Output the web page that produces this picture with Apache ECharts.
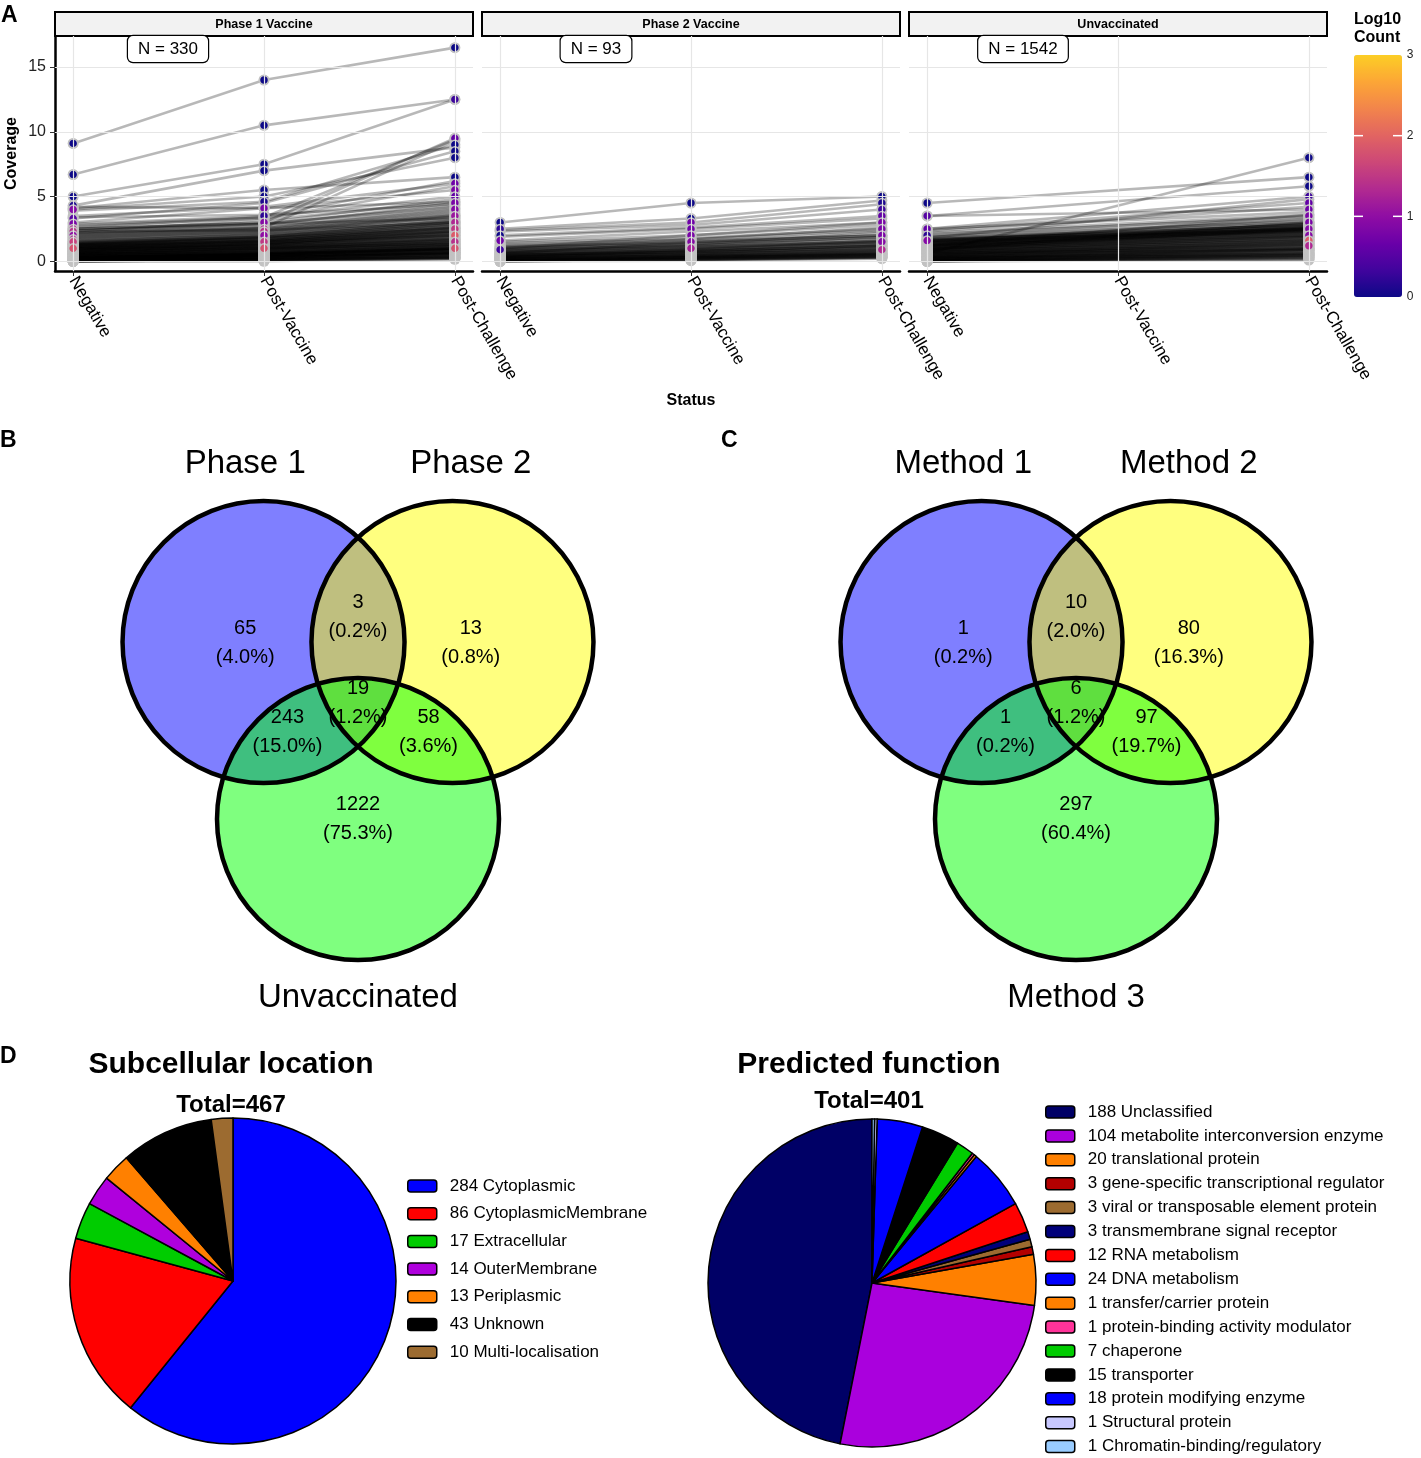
<!DOCTYPE html>
<html><head><meta charset="utf-8">
<script src="https://cdn.jsdelivr.net/npm/echarts@6/dist/echarts.min.js"></script>
<style>html,body{margin:0;padding:0;background:#fff;overflow:hidden}#c{width:1421px;height:1458px}</style>
</head><body><div id="c"></div><script>
// ---------------- DATA ----------------
const statusLabels = ['Negative', 'Post-Vaccine', 'Post-Challenge'];
const facetNames = ['Phase 1 Vaccine', 'Phase 2 Vaccine', 'Unvaccinated'];
const facetN = [330, 93, 1542];
const coverageTicks = [0, 5, 10, 15];

// [Negative, Post-Vaccine, Post-Challenge] coverage per protein (representative subset)
const phase1Lines = [
  [9.1,14.0,16.5],[6.7,10.5,12.5],[5.0,7.5,12.5],[4.3,7.0,8.8],[4.1,5.5,6.5],[4.0,5.0,8.0],
  [3.9,4.6,9.0],[3.3,4.5,8.5],[3.5,4.2,6.0],[2.5,3.0,9.5],[2.2,2.6,9.3],[2.8,3.4,9.4],
  [3.0,4.1,5.5],[2.9,3.5,6.2],[2.7,3.3,5.8],[2.6,3.4,5.0],[2.5,3.0,4.8],[2.4,2.8,4.5],
  [2.3,3.2,4.6],[2.2,2.9,4.2],[2.1,2.6,4.0],[2.0,2.5,3.8],[1.9,2.4,3.6],[1.8,2.3,3.5],
  [1.7,2.2,3.4],[1.6,2.0,3.2],[1.5,1.9,3.0],[1.4,1.8,2.9],[1.3,1.7,2.8],[1.2,1.6,2.6],
  [1.1,1.5,2.4],[1.0,1.4,2.3],[4.2,4.1,4.6],[3.4,3.6,4.4],[2.5,2.9,3.3],[2.3,2.4,3.0],
  [0.0,0.1,0.3],[0.0,0.1,0.4],[0.05,0.15,0.35],[0.1,0.2,0.5],[0.1,0.3,0.6],[0.15,0.25,0.45],
  [0.2,0.3,0.7],[0.2,0.4,0.8],[0.25,0.35,0.6],[0.3,0.5,0.9],[0.3,0.4,0.75],[0.35,0.5,1.0],
  [0.4,0.6,1.1],[0.4,0.5,0.85],[0.45,0.6,1.0],[0.5,0.7,1.2],[0.5,0.6,0.95],[0.55,0.75,1.25],
  [0.6,0.8,1.3],[0.6,0.7,1.1],[0.65,0.9,1.4],[0.7,0.9,1.5],[0.7,1.0,1.35],[0.75,1.0,1.6],
  [0.8,1.1,1.7],[0.8,1.0,1.45],[0.85,1.15,1.8],[0.9,1.2,1.9],[0.9,1.1,1.6],[0.95,1.3,2.0],
  [1.0,1.3,2.1],[1.0,1.2,1.75],[1.05,1.4,2.2],[1.1,1.45,2.0],[1.15,1.5,2.3],[1.2,1.55,2.5],
  [1.25,1.6,2.35],[1.3,1.75,2.7],[1.35,1.8,2.55],[1.4,1.9,3.0],[0.0,0.05,0.2],[0.0,0.2,0.3],
  [0.1,0.1,0.25],[0.05,0.3,0.55],[0.15,0.4,0.65],[0.2,0.5,0.9],[0.3,0.6,1.0],[0.35,0.45,0.7],
  [0.45,0.65,1.15],[0.55,0.85,1.3],[0.0,0.15,0.5],[0.1,0.25,0.7],[0.25,0.55,0.95],[0.5,0.9,1.5],
  [0.65,1.05,1.7],[0.75,1.25,2.0],[0.9,1.35,2.2],[1.1,1.6,2.6],[1.3,1.9,2.9],[1.5,2.1,3.1],
  [0.0,0.0,0.2],[0.0,0.1,0.15],[0.02,0.12,0.3],[0.05,0.1,0.25],[0.08,0.2,0.4],[0.1,0.15,0.35],
  [0.12,0.25,0.5],[0.15,0.3,0.55],[0.18,0.35,0.6],[0.2,0.35,0.65],[0.22,0.4,0.7],[0.25,0.45,0.8],
  [0.28,0.5,0.85],[0.3,0.55,0.95],[0.32,0.5,0.9],[0.38,0.55,1.0],[0.42,0.65,1.05],[0.48,0.7,1.15],
  [0.52,0.75,1.2],[0.58,0.8,1.3],[0.62,0.85,1.35],[0.68,0.95,1.45],[0.72,1.0,1.55],[0.78,1.05,1.65],
  [0.82,1.1,1.75],[0.88,1.2,1.85],[0.92,1.25,1.95],[0.98,1.3,2.05],[1.02,1.35,2.15],[1.08,1.4,2.25],
  [1.12,1.5,2.35],[1.18,1.55,2.45],[1.22,1.6,2.55],[1.28,1.7,2.65],[1.32,1.75,2.75],[1.38,1.85,2.85],
  [1.45,1.95,3.05],[1.55,2.05,3.15],[1.65,2.15,3.3],[1.75,2.25,3.45],[1.85,2.35,3.55],[1.95,2.45,3.7],
  [2.05,2.55,3.9],[2.15,2.7,4.1],[2.35,2.9,4.3]
];
const phase2Lines = [
  [3.0,4.5,5.0],[2.5,3.3,4.7],[2.4,3.0,4.4],[2.3,2.8,4.0],[2.0,2.6,3.5],[1.9,2.5,3.3],
  [1.6,2.3,3.0],[1.5,2.0,2.8],[1.4,1.8,2.5],[1.2,1.6,2.0],[1.0,1.4,1.8],[0.9,1.2,1.6],
  [0.8,1.1,1.5],[0.7,1.0,1.4],[0.6,0.9,1.3],[0.5,0.8,1.2],[0.5,0.7,1.0],[0.4,0.6,0.9],
  [0.35,0.55,0.85],[0.3,0.5,0.8],[0.25,0.45,0.7],[0.2,0.4,0.65],[0.15,0.35,0.6],[0.1,0.3,0.5],
  [0.1,0.25,0.45],[0.05,0.2,0.4],[0.0,0.15,0.35],[0.0,0.1,0.3],[0.0,0.1,0.25],[0.05,0.3,0.55],
  [0.2,0.3,0.5],[0.3,0.6,1.1],[0.45,0.75,1.25],[0.6,1.0,1.6],[0.7,1.2,1.9],[0.8,1.3,2.2],
  [0.4,0.9,1.5],[1.1,1.5,2.3],[0.9,1.7,2.6],[1.0,2.0,3.0],[0.6,1.5,2.0],[0.3,0.8,1.2],
  [0.0,0.05,0.2],[0.02,0.12,0.3],[0.05,0.15,0.32],[0.08,0.2,0.38],[0.12,0.22,0.42],[0.15,0.28,0.5],
  [0.18,0.32,0.55],[0.22,0.38,0.6],[0.25,0.4,0.62],[0.28,0.45,0.72],[0.32,0.5,0.78],[0.38,0.55,0.82],
  [0.42,0.62,0.92],[0.48,0.7,1.0],[0.52,0.72,1.05],[0.55,0.8,1.15],[0.62,0.85,1.2],[0.68,0.95,1.35],
  [0.75,1.05,1.45],[0.85,1.15,1.55],[0.95,1.25,1.7],[1.05,1.35,1.85],[1.15,1.45,2.0],[1.3,1.7,2.4]
];
// [Negative, Post-Challenge] (no Post-Vaccine sample)
const unvaccLines = [
  [4.5,6.5],[3.5,5.8],[3.5,4.0],[0.6,8.0],[2.5,5.0],[2.5,3.8],[2.4,4.5],[2.3,4.2],[2.2,3.6],
  [2.0,3.5],[1.9,3.2],[1.8,4.8],[1.7,3.0],[1.6,2.8],[1.5,3.3],[1.5,2.6],[1.4,2.5],[1.3,2.9],
  [1.3,2.3],[1.2,2.2],[1.2,2.7],[1.1,2.0],[1.1,2.4],[1.0,1.9],[1.0,2.1],[0.9,1.8],[0.9,2.5],
  [0.8,1.6],[0.8,1.9],[0.7,1.5],[0.7,1.7],[0.6,1.4],[0.6,1.3],[0.5,1.2],[0.5,1.5],[0.45,1.1],
  [0.4,1.0],[0.4,1.3],[0.35,0.9],[0.3,0.8],[0.3,1.0],[0.25,0.7],[0.2,0.6],[0.2,0.9],[0.15,0.5],
  [0.1,0.4],[0.1,0.6],[0.05,0.3],[0.0,0.2],[0.0,0.4],[0.0,0.1],[0.0,0.3],[0.05,0.5],[0.15,0.8],
  [0.25,0.45],[0.35,0.6],[0.55,0.9],[0.65,1.0],[0.75,1.2],[0.85,1.4],[0.95,1.6],[1.05,1.7],
  [1.15,1.9],[1.25,2.0],[1.35,2.1],[1.45,2.2],[1.55,2.3],[1.6,2.4],[1.7,2.5],[1.2,3.6],[0.9,3.0],
  [0.0,0.15],[0.02,0.25],[0.05,0.35],[0.08,0.45],[0.12,0.55],[0.18,0.65],[0.22,0.75],[0.28,0.85],
  [0.32,0.95],[0.38,1.05],[0.42,1.15],[0.48,1.25],[0.52,1.35],[0.58,1.45],[0.62,1.55],[0.68,1.65],
  [0.72,1.75],[0.78,1.85],[0.82,1.95],[0.88,2.05],[0.92,2.15],[0.98,2.25],[1.02,2.35],[1.08,2.45],
  [1.12,2.55],[1.18,2.65],[1.22,2.3],[1.28,2.45],[1.32,2.6],[1.38,2.75],[1.42,2.9],[1.48,2.4],
  [1.52,2.5],[1.58,2.7],[1.62,2.85],[1.68,3.0],[1.72,2.6],[1.8,2.8],[1.9,3.1],[2.1,3.4]
];
// coloured points: [status index, coverage, log10 count]
const phase1Dots = [
  [0,9.1,0],[0,6.7,0],[0,5.0,0],[0,4.3,0.1],[0,4.0,0.9],[0,3.3,0.5],[0,2.9,0.8],[0,2.5,1.3],
  [0,2.3,1.4],[0,2.0,1.0],[0,1.7,1.3],[0,1.5,1.6],[0,1.0,1.8],
  [1,14.0,0],[1,10.5,0],[1,7.5,0],[1,7.0,0],[1,5.5,0],[1,5.0,0],[1,4.6,0.1],[1,4.1,0.8],
  [1,3.5,0.2],[1,3.0,0.9],[1,2.5,1.3],[1,2.3,1.4],[1,2.0,1.0],[1,1.5,1.5],[1,1.0,1.8],
  [2,16.5,0],[2,12.5,0.3],[2,9.5,0.6],[2,9.0,0],[2,8.5,0],[2,8.0,0],[2,6.5,0],[2,6.0,0.7],
  [2,5.5,0.8],[2,5.0,0.6],[2,4.5,0.8],[2,4.0,0.9],[2,3.5,1.1],[2,3.0,1.3],[2,2.5,1.5],
  [2,2.0,1.9],[2,1.5,1.4],[2,1.0,1.8]
];
const phase2Dots = [
  [0,3.0,0],[0,2.5,0.2],[0,2.0,0],[0,1.6,0.7],[0,0.9,0.3],
  [1,4.5,0],[1,3.3,0],[1,3.0,0.7],[1,2.5,0.7],[1,2.0,0.8],[1,1.5,0.9],[1,1.0,1.2],
  [2,5.0,0],[2,4.5,0.1],[2,4.0,0.3],[2,3.5,0.6],[2,3.0,0.8],[2,2.5,0.8],[2,2.0,0.8],[2,1.5,0.9],[2,0.9,1.3]
];
const unvaccDots = [
  [0,4.5,0],[0,3.5,0.5],[0,2.5,0.6],[0,2.0,0.2],[0,1.6,0.9],
  [2,8.0,0],[2,6.5,0],[2,5.8,0],[2,5.0,0.3],[2,4.5,0.6],[2,4.0,0.7],[2,3.5,0.8],[2,3.0,0.8],
  [2,2.5,0.9],[2,2.0,0.9],[2,1.6,1.9],[2,1.2,1.3]
];
const logCountTicks = [0, 1, 2, 3];

// Venn regions: A only, A&B, B only, A&B&C, A&C, B&C, C only
const phaseSets = ['Phase 1', 'Phase 2', 'Unvaccinated'];
const phaseVennCounts = [65, 3, 13, 19, 243, 58, 1222];
const methodSets = ['Method 1', 'Method 2', 'Method 3'];
const methodVennCounts = [1, 10, 80, 6, 1, 97, 297];

// Pies
const locationNames = ['Cytoplasmic','CytoplasmicMembrane','Extracellular','OuterMembrane','Periplasmic','Unknown','Multi-localisation'];
const locationCounts = [284, 86, 17, 14, 13, 43, 10];
const functionNames = ['Unclassified','metabolite interconversion enzyme','translational protein','gene-specific transcriptional regulator','viral or transposable element protein','transmembrane signal receptor','RNA metabolism','DNA metabolism','transfer/carrier protein','protein-binding activity modulator','chaperone','transporter','protein modifying enzyme','Structural protein','Chromatin-binding/regulatory'];
const functionCounts = [188, 104, 20, 3, 3, 3, 12, 24, 1, 1, 7, 15, 18, 1, 1];

// ---------------- STYLE / LAYOUT ----------------
const FONT = "'Liberation Sans', Arial, Helvetica, sans-serif";
const plasma = ['#0D0887','#41049D','#6A00A8','#8F0DA4','#B12A90','#CC4778','#E16462','#F2844B','#FCA636','#FCCE25'];
const locationColors = ['#0000FF','#FF0000','#00CC00','#AF00DD','#FF8000','#000000','#9C6B30'];
const functionColors = ['#000066','#AA00DD','#FF8000','#B30000','#9C6B30','#00007A','#FF0000','#0000FF','#FF8000','#FF3399','#00CC00','#000000','#0000FF','#C8C8FF','#99CCFF'];
const vennFill = ['rgba(0,0,255,0.5)','rgba(255,255,0,0.5)','rgba(0,255,0,0.5)'];
// Venn layout in circle-radius units (C circle centred at origin)
const vennCircleLayout = [[-0.67, 1.255, 1], [0.67, 1.255, 1], [0, 0, 1]];
const vennRegionLayout = [[-0.80,1.245],[0,1.43],[0.80,1.245],[0,0.82],[-0.50,0.62],[0.50,0.62],[0,0]];
const vennSetLayout = [[-0.80,2.52],[0.80,2.52],[0,-1.27]];

const facetLeft = [55, 482, 909];
const facetW = 418, facetTop = 36, facetH = 235;
const yMin = -0.75, yMax = 17.4, xMin = -0.095, xMax = 2.095;

// ---------------- OPTION ----------------
const grids = facetLeft.map(l => ({ left: l, top: facetTop, width: facetW, height: facetH }));
const R = 141;
grids.push({ left: 358 - 2 * R, top: 819 - 2.65 * R, width: 4 * R, height: 4.1 * R });
grids.push({ left: 1076 - 2 * R, top: 819 - 2.65 * R, width: 4 * R, height: 4.1 * R });

const xAxes = [], yAxes = [];
for (let i = 0; i < 3; i++) {
  xAxes.push({
    type: 'value', gridIndex: i, min: xMin, max: xMax,
    axisLine: { show: true, onZero: false, lineStyle: { color: '#000', width: 2.5 } },
    axisTick: { show: true, customValues: [0, 1, 2], length: 5, lineStyle: { color: '#333', width: 1 } },
    axisLabel: { show: true, customValues: [0, 1, 2], formatter: v => statusLabels[Math.round(v)] || '',
      rotate: -60, fontSize: 17, color: '#000', margin: 7, fontFamily: FONT },
    splitLine: { show: false }
  });
  yAxes.push(i === 0 ? {
    type: 'value', gridIndex: 0, min: yMin, max: yMax,
    axisLine: { show: true, onZero: false, lineStyle: { color: '#000', width: 2.5 } },
    axisTick: { show: true, customValues: coverageTicks, length: 5, lineStyle: { color: '#333', width: 1 } },
    axisLabel: { show: true, customValues: coverageTicks, fontSize: 16, color: '#222', margin: 9, fontFamily: FONT },
    splitLine: { show: false },
    name: 'Coverage', nameLocation: 'middle', nameGap: 35,
    nameTextStyle: { fontWeight: 'bold', fontSize: 16, color: '#000', fontFamily: FONT }
  } : { type: 'value', gridIndex: i, min: yMin, max: yMax, show: false, splitLine: { show: false } });
}
for (let i = 3; i < 5; i++) {
  xAxes.push({ type: 'value', gridIndex: i, min: -2, max: 2, show: false, splitLine: { show: false } });
  yAxes.push({ type: 'value', gridIndex: i, min: -1.45, max: 2.65, show: false, splitLine: { show: false } });
}

const series = [];
const dotSeriesIdx = [];
const allLines = [phase1Lines, phase2Lines, unvaccLines];
const allDots = [phase1Dots, phase2Dots, unvaccDots];
for (let i = 0; i < 3; i++) {
  const L = allLines[i];
  const coordsOf = l => l.length === 3 ? [[0, l[0]], [1, l[1]], [2, l[2]]] : [[0, l[0]], [2, l[1]]];
  series.push({
    type: 'line', xAxisIndex: i, yAxisIndex: i, data: [], silent: true, z: 1,
    markLine: { silent: true, symbol: 'none', label: { show: false }, animation: false,
      lineStyle: { color: '#e6e6e6', width: 1.2, type: 'solid' },
      data: coverageTicks.map(v => ({ yAxis: v })).concat([0, 1, 2].map(v => ({ xAxis: v }))) }
  });
  series.push({
    type: 'lines', coordinateSystem: 'cartesian2d', xAxisIndex: i, yAxisIndex: i, polyline: true,
    silent: true, z: 2, large: false,
    lineStyle: { color: '#000', opacity: 0.28, width: 2.6 },
    data: L.map(l => ({ coords: coordsOf(l) }))
  });
  const halo = [];
  L.forEach(l => coordsOf(l).forEach(p => halo.push(p)));
  series.push({
    type: 'scatter', xAxisIndex: i, yAxisIndex: i, data: halo, symbolSize: 11, silent: true, z: 3,
    itemStyle: { color: '#c2c2c2', opacity: 1 }
  });
  dotSeriesIdx.push(series.length);
  series.push({
    type: 'scatter', xAxisIndex: i, yAxisIndex: i, data: allDots[i], symbolSize: 9, silent: true, z: 4,
    itemStyle: { borderColor: '#c2c2c2', borderWidth: 1.5, opacity: 1 }
  });
}

function vennSeries(gi, sets, counts) {
  const total = counts.reduce((a, b) => a + b, 0);
  const circleItem = (stroke) => (params, api) => {
    const c = api.coord([api.value(0), api.value(1)]);
    const r = api.size([api.value(2), 0])[0];
    return { type: 'circle', shape: { cx: c[0], cy: c[1], r: r },
      style: stroke ? { fill: 'none', stroke: '#000', lineWidth: 4.5 } : { fill: vennFill[params.dataIndex], stroke: 'none' } };
  };
  return [
    { type: 'custom', xAxisIndex: gi, yAxisIndex: gi, silent: true, z: 1, clip: false,
      data: vennCircleLayout, renderItem: circleItem(false) },
    { type: 'custom', xAxisIndex: gi, yAxisIndex: gi, silent: true, z: 2, clip: false,
      data: vennCircleLayout, renderItem: circleItem(true) },
    { type: 'custom', xAxisIndex: gi, yAxisIndex: gi, silent: true, z: 3, clip: false,
      data: vennRegionLayout.map((p, k) => [p[0], p[1], counts[k]]),
      renderItem: (params, api) => {
        const c = api.coord([api.value(0), api.value(1)]);
        const n = api.value(2);
        return { type: 'text', x: c[0], y: c[1],
          style: { text: n + '\n(' + (n / total * 100).toFixed(1) + '%)', fontSize: 20, fontFamily: FONT,
            lineHeight: 29, fill: '#000', align: 'center', verticalAlign: 'middle' } };
      } },
    { type: 'custom', xAxisIndex: gi, yAxisIndex: gi, silent: true, z: 3, clip: false,
      data: vennSetLayout,
      renderItem: (params, api) => {
        const c = api.coord([api.value(0), api.value(1)]);
        return { type: 'text', x: c[0], y: c[1],
          style: { text: sets[params.dataIndex], fontSize: 33, fontFamily: FONT, fill: '#000',
            align: 'center', verticalAlign: 'middle' } };
      } }
  ];
}
series.push(...vennSeries(3, phaseSets, phaseVennCounts));
series.push(...vennSeries(4, methodSets, methodVennCounts));

const locLegend = locationNames.map((n, i) => locationCounts[i] + ' ' + n);
const funLegend = functionNames.map((n, i) => functionCounts[i] + ' ' + n);
series.push({
  type: 'pie', name: 'Subcellular location', center: [233, 1281], radius: 163, startAngle: 90, clockwise: true,
  silent: true, label: { show: false }, labelLine: { show: false }, animation: false,
  itemStyle: { borderColor: '#000', borderWidth: 1.5 },
  data: locationCounts.map((v, i) => ({ name: locLegend[i], value: v, itemStyle: { color: locationColors[i] } }))
});
series.push({
  type: 'pie', name: 'Predicted function', center: [872, 1283], radius: 164, startAngle: 90, clockwise: false,
  silent: true, label: { show: false }, labelLine: { show: false }, animation: false,
  itemStyle: { borderColor: '#000', borderWidth: 1.5 },
  data: functionCounts.map((v, i) => ({ name: funLegend[i], value: v, itemStyle: { color: functionColors[i] } }))
});

function txt(x, y, text, size, bold, align, extra) {
  return { type: 'text', x: x, y: y, silent: true, z: 10,
    style: Object.assign({ text: text, font: (bold ? 'bold ' : '') + size + 'px ' + FONT, fill: '#000',
      textAlign: align || 'center', textVerticalAlign: 'middle', align: align || 'center', verticalAlign: 'middle' }, extra || {}) };
}
const graphics = [];
facetLeft.forEach((l, i) => {
  graphics.push({ type: 'rect', silent: true, z: 5, shape: { x: l, y: 12, width: facetW, height: 24 },
    style: { fill: '#f2f2f2', stroke: '#000', lineWidth: 2 } });
  graphics.push(txt(l + facetW / 2, 24.5, facetNames[i], 12.5, true));
});
const nCenters = [168, 596, 1023];
nCenters.forEach((x, i) => {
  graphics.push({ type: 'text', x: x, y: 36, silent: true, z: 10,
    style: { text: 'N = ' + facetN[i], font: '17px ' + FONT, fill: '#000', textAlign: 'center', align: 'center',
      textVerticalAlign: 'top', verticalAlign: 'top', backgroundColor: '#fff', borderColor: '#000', borderWidth: 1.2,
      borderRadius: 5, padding: [5, 10, 4, 10] } });
});
graphics.push(txt(691, 401, 'Status', 16, true));
graphics.push(txt(1354, 20, 'Log10', 16, true, 'left'));
graphics.push(txt(1354, 38, 'Count', 16, true, 'left'));
logCountTicks.forEach(t => {
  const y = 297 - t * (242 / 3);
  graphics.push(txt(1410, y, String(t), 12, false, 'center', { fill: '#222' }));
  if (t === 1 || t === 2) {
    graphics.push({ type: 'line', silent: true, z: 10, shape: { x1: 1354, y1: y, x2: 1363, y2: y }, style: { stroke: '#fff', lineWidth: 1.5 } });
    graphics.push({ type: 'line', silent: true, z: 10, shape: { x1: 1393, y1: y, x2: 1402, y2: y }, style: { stroke: '#fff', lineWidth: 1.5 } });
  }
});
graphics.push(txt(1, 16, 'A', 23, true, 'left'));
graphics.push(txt(0, 441, 'B', 23, true, 'left'));
graphics.push(txt(721, 441, 'C', 23, true, 'left'));
graphics.push(txt(0, 1057, 'D', 23, true, 'left'));
graphics.push(txt(231, 1065, 'Subcellular location', 30, true));
graphics.push(txt(231, 1105, 'Total=' + locationCounts.reduce((a, b) => a + b, 0), 24, true));
graphics.push(txt(869, 1065, 'Predicted function', 30, true));
graphics.push(txt(869, 1101, 'Total=' + functionCounts.reduce((a, b) => a + b, 0), 24, true));

const legendCommon = {
  orient: 'vertical', icon: 'roundRect', itemWidth: 29, itemHeight: 12, padding: 0, selectedMode: false,
  itemStyle: { borderColor: '#000', borderWidth: 1.5 },
  textStyle: { fontSize: 17, color: '#000', fontFamily: FONT, lineHeight: 18, padding: [0, 0, 0, 8] }
};

const option = {
  animation: false,
  backgroundColor: '#fff',
  grid: grids,
  xAxis: xAxes,
  yAxis: yAxes,
  visualMap: [{
    type: 'continuous', min: 0, max: 3, dimension: 2, seriesIndex: dotSeriesIdx,
    inRange: { color: plasma }, orient: 'vertical', left: 1354, top: 55, itemWidth: 48, itemHeight: 242,
    padding: 0, calculable: false, hoverLink: false, text: null, show: true
  }],
  legend: [
    Object.assign({}, legendCommon, { data: locLegend, left: 407, top: 1177, itemGap: 9.7 }),
    Object.assign({}, legendCommon, { data: funLegend, left: 1045, top: 1103, itemGap: 5.9 })
  ],
  graphic: graphics,
  series: series
};
const chart = echarts.init(document.getElementById('c'));
chart.setOption(option);
</script></body></html>
